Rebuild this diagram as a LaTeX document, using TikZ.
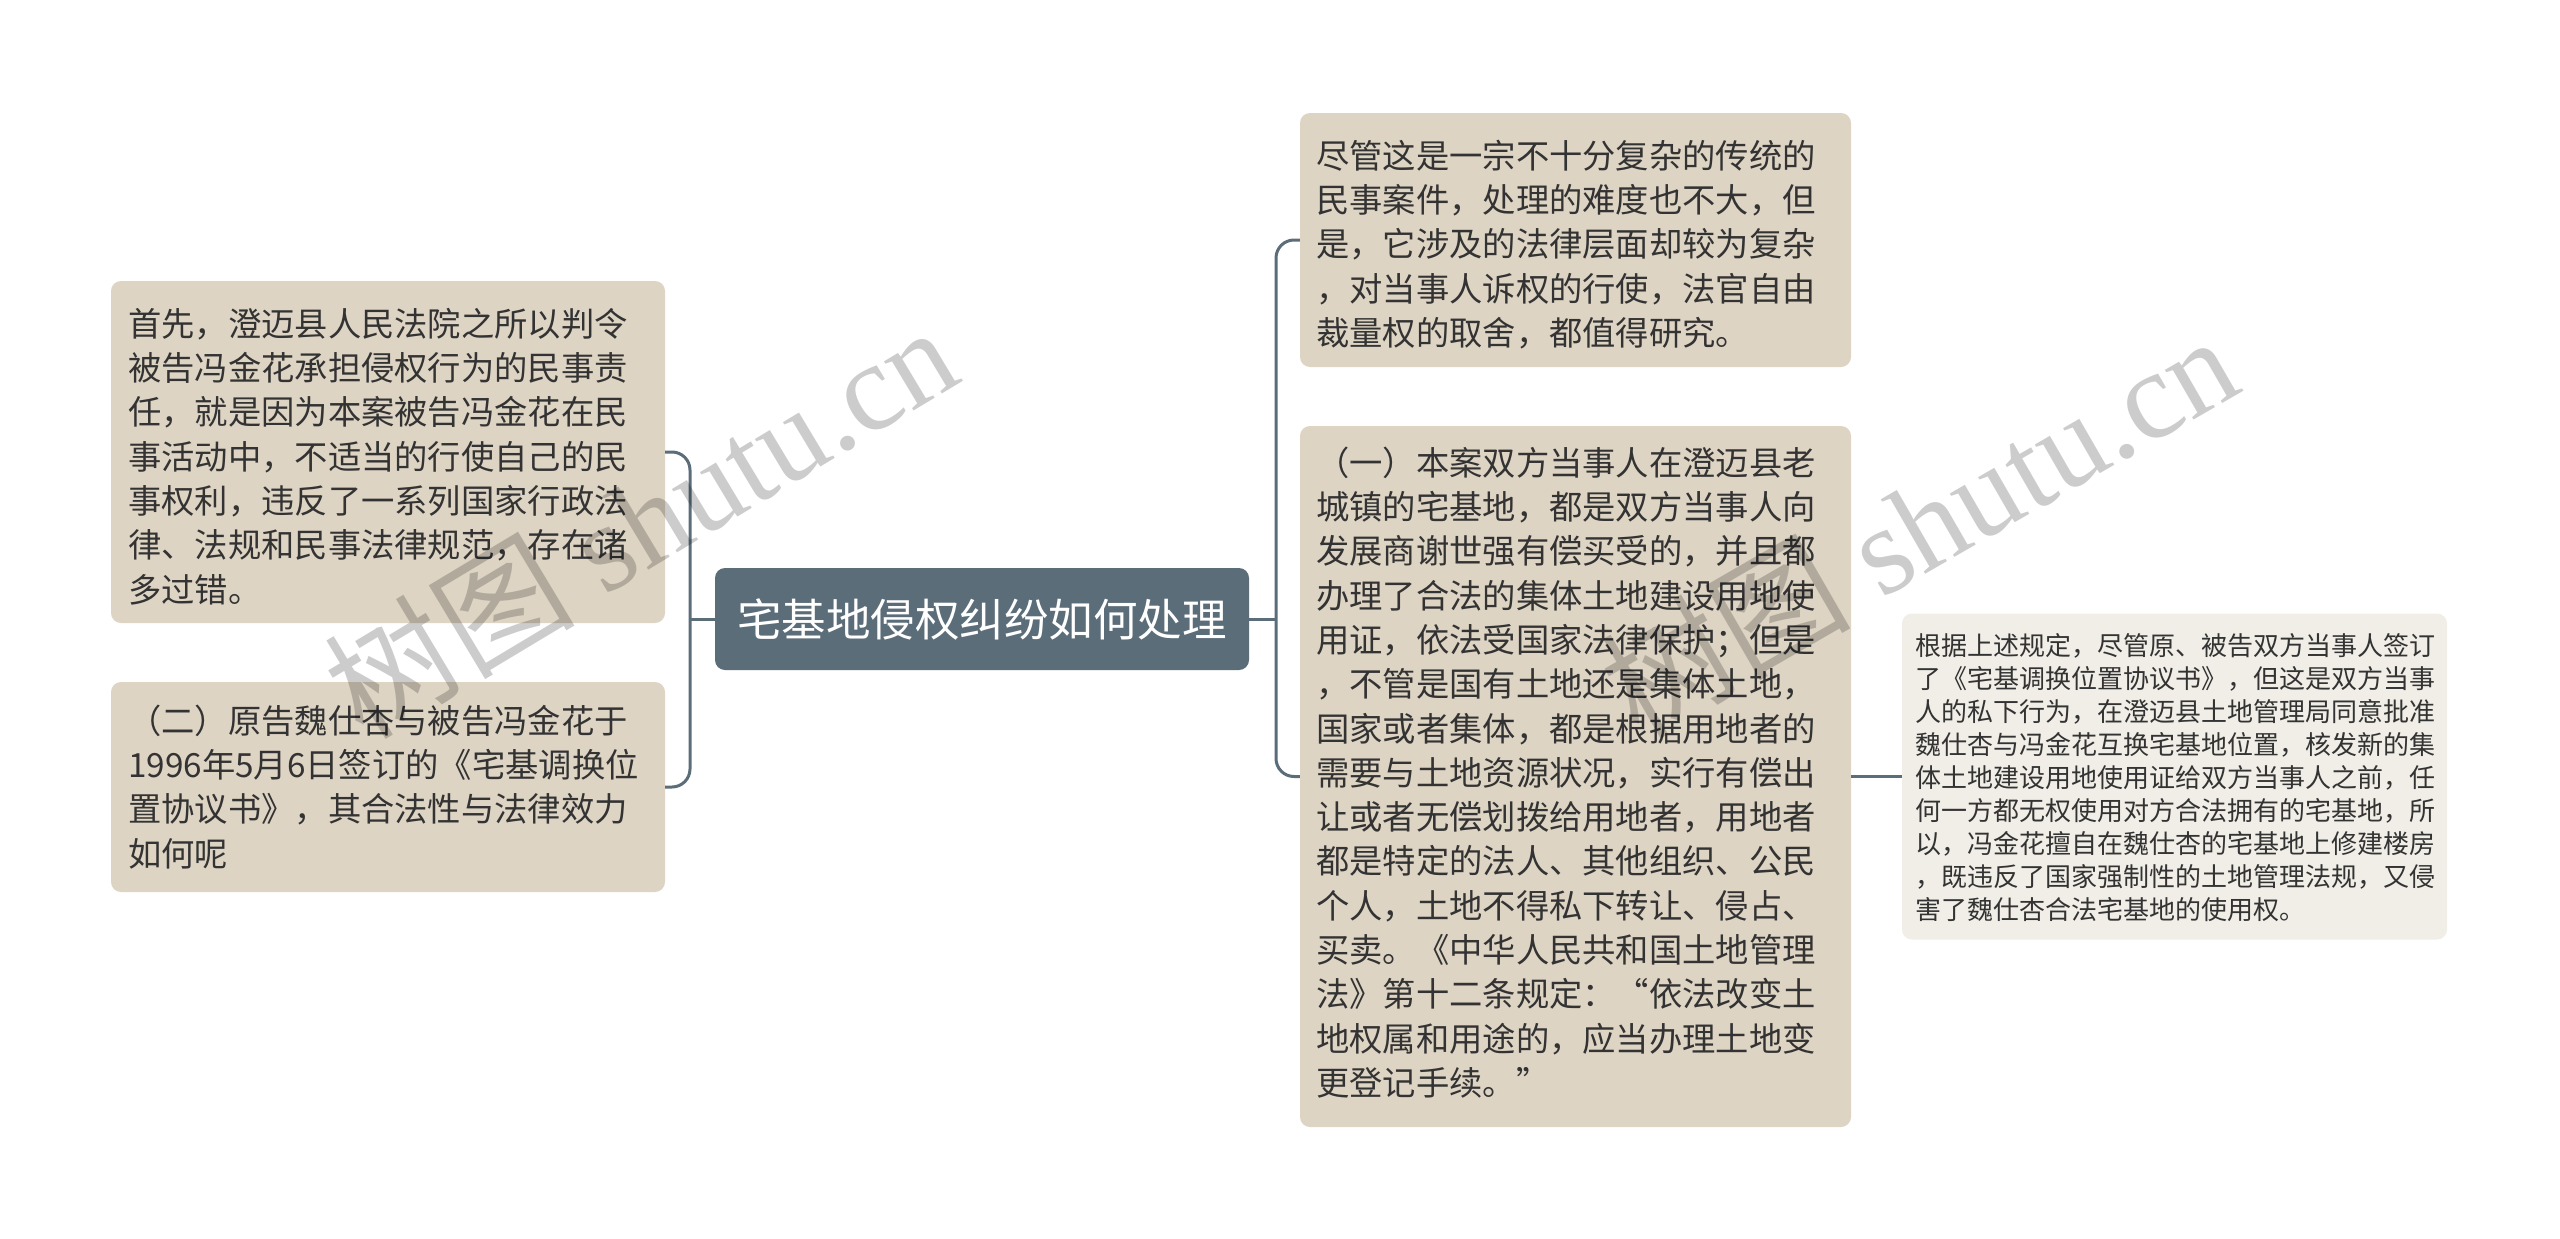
\documentclass[tikz,border=0pt]{standalone}
\usepackage{fontspec}
\newfontfamily\cjk{Noto Sans CJK SC}
\newfontfamily\wmserif{Liberation Serif}
\definecolor{boxfill}{HTML}{DED4C4}
\definecolor{lightfill}{HTML}{F1EEE7}
\definecolor{slate}{HTML}{5C6D7A}
\definecolor{txtc}{HTML}{333333}
\tikzset{
  conn/.style={draw=slate, line width=3pt, rounded corners=18pt},
  topicbox/.style={fill=boxfill, rounded corners=10pt, inner sep=0pt},
  subbox/.style={fill=lightfill, rounded corners=10pt, inner sep=0pt},
  rootbox/.style={fill=slate, rounded corners=10pt, inner sep=0pt},
  bigtxt/.style={anchor=north west, inner sep=0pt, align=left, text=txtc,
    font=\fontsize{33.3}{44.3}\selectfont\cjk},
  smalltxt/.style={anchor=north west, inner sep=0pt, align=left, text=txtc,
    font=\fontsize{26}{33}\selectfont\cjk},
  wm/.style={inner sep=0pt, text=black, text opacity=0.2,
    font=\fontsize{125}{125}\selectfont\wmserif}
}
\begin{document}
\begin{tikzpicture}[x=1pt,y=-1pt]
\useasboundingbox[fill=white] (0,0) rectangle (2560,1239);

% boxes
\node[rootbox, minimum width=534pt, minimum height=102pt, text=white,
      font=\fontsize{44.5}{50}\selectfont\cjk] (root) at (982,619) {宅基地侵权纠纷如何处理};
\node[topicbox, minimum width=554pt, minimum height=342pt] (l1) at (388,452) {};
\node[topicbox, minimum width=554pt, minimum height=210pt] (l2) at (388,787) {};
\node[topicbox, minimum width=551pt, minimum height=254pt] (r1) at (1575.5,240) {};
\node[topicbox, minimum width=551pt, minimum height=701pt] (r2) at (1575.5,776.5) {};
\node[subbox, minimum width=545pt, minimum height=326pt] (s1) at (2174.5,776.5) {};

% connectors
\coordinate (lj) at (690,619);
\coordinate (rj) at (1276,619);
\draw[conn] (root.west) -- (lj);
\draw[conn] (l1.east) -| (lj) |- (l2.east);
\draw[conn] (root.east) -- (rj);
\draw[conn] (r1.west) -| (rj) |- (r2.west);
\draw[conn] (r2.east) -- (s1.west);

% texts
\node[bigtxt] (tl1) at (128,305) {\strut 首先，澄迈县人民法院之所以判令\\被告冯金花承担侵权行为的民事责\\任，就是因为本案被告冯金花在民\\事活动中，不适当的行使自己的民\\事权利，违反了一系列国家行政法\\律、法规和民事法律规范，存在诸\\多过错。};
\node[bigtxt] (tl2) at (128,702) {\strut （二）原告魏仕杏与被告冯金花于\\1996年5月6日签订的《宅基调换位\\置协议书》，其合法性与法律效力\\如何呢};
\node[bigtxt] (tr1) at (1316,137) {\strut 尽管这是一宗不十分复杂的传统的\\民事案件，处理的难度也不大，但\\是，它涉及的法律层面却较为复杂\\，对当事人诉权的行使，法官自由\\裁量权的取舍，都值得研究。};
\node[bigtxt] (tr2) at (1316,444) {\strut （一）本案双方当事人在澄迈县老\\城镇的宅基地，都是双方当事人向\\发展商谢世强有偿买受的，并且都\\办理了合法的集体土地建设用地使\\用证，依法受国家法律保护；但是\\，不管是国有土地还是集体土地，\\国家或者集体，都是根据用地者的\\需要与土地资源状况，实行有偿出\\让或者无偿划拨给用地者，用地者\\都是特定的法人、其他组织、公民\\个人，土地不得私下转让、侵占、\\买卖。《中华人民共和国土地管理\\法》第十二条规定：“依法改变土\\地权属和用途的，应当办理土地变\\更登记手续。”};
\node[smalltxt] (ts1) at (1915,632) {\strut 根据上述规定，尽管原、被告双方当事人签订\\了《宅基调换位置协议书》，但这是双方当事\\人的私下行为，在澄迈县土地管理局同意批准\\魏仕杏与冯金花互换宅基地位置，核发新的集\\体土地建设用地使用证给双方当事人之前，任\\何一方都无权使用对方合法拥有的宅基地，所\\以，冯金花擅自在魏仕杏的宅基地上修建楼房\\，既违反了国家强制性的土地管理法规，又侵\\害了魏仕杏合法宅基地的使用权。};

% watermarks
\node[wm, rotate=31] (wm1) at (640,520) {{\cjk 树图} shutu.cn};
\node[wm, rotate=30] (wm2) at (1918,524) {{\cjk 树图} shutu.cn};
\end{tikzpicture}
\end{document}
